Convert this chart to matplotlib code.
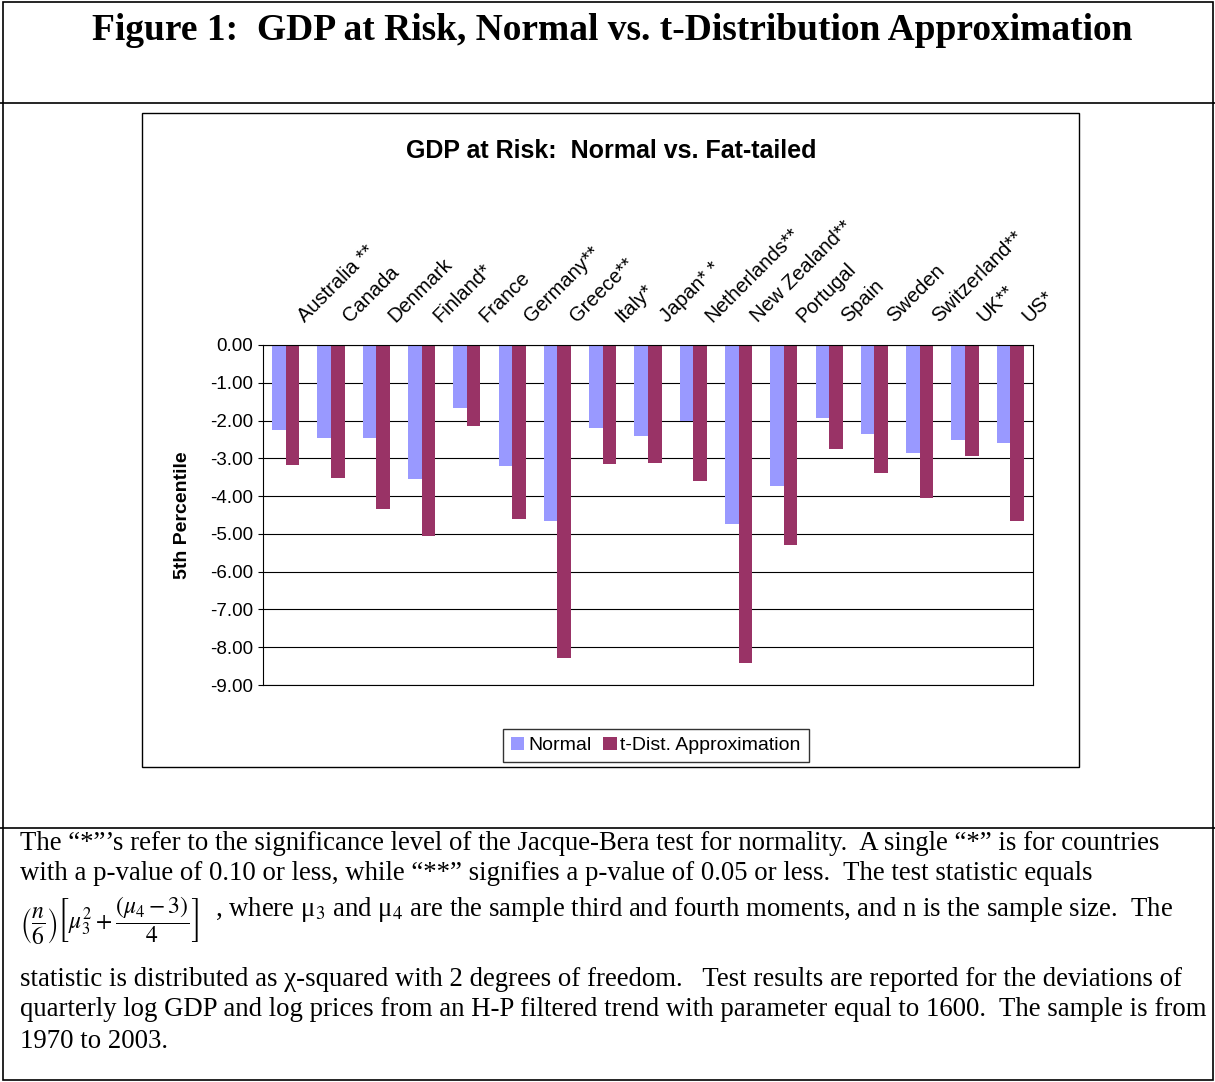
import matplotlib
matplotlib.use('Agg')
import matplotlib.pyplot as plt
import matplotlib.transforms as mtransforms
import numpy as np
from matplotlib.patches import Rectangle

countries = ['Australia **', 'Canada', 'Denmark', 'Finland*', 'France', 'Germany**', 'Greece**',
             'Italy*', 'Japan* *', 'Netherlands**', 'New Zealand**', 'Portugal', 'Spain',
             'Sweden', 'Switzerland**', 'UK**', 'US*']
normal = [-2.25, -2.46, -2.46, -3.54, -1.67, -3.20, -4.66, -2.20, -2.41, -2.01,
          -4.74, -3.73, -1.93, -2.35, -2.86, -2.51, -2.60]
t_dist = [-3.17, -3.51, -4.34, -5.05, -2.14, -4.60, -8.28, -3.15, -3.12, -3.60,
          -8.41, -5.29, -2.75, -3.39, -4.05, -2.94, -4.65]
yticks = np.arange(0, -9.5, -1)

W, H = 1215, 1082
fig = plt.figure(figsize=(W / 100, H / 100), dpi=100)
plt.rcParams['mathtext.fontset'] = 'stix'
serif = 'Liberation Serif'
sans = 'Liberation Sans'

def fx(x): return x / W
def fy(y): return 1 - y / H

# document frame
for y in [103, 828]:
    fig.add_artist(plt.Line2D([0, 1], [fy(y), fy(y)], color='black', lw=1.2))
fig.add_artist(Rectangle((fx(3), fy(1080)), fx(1210), fy(2) - fy(1080), fill=False, lw=1.2, color='black'))
fig.add_artist(Rectangle((fx(142), fy(767)), fx(937), fy(113) - fy(767), fill=False, lw=1, color='black'))

fig.text(fx(612), fy(31), 'Figure 1:  GDP at Risk, Normal vs. t-Distribution Approximation',
         ha='center', va='center', fontsize=27, fontweight='bold', family=serif)
fig.text(fx(611), fy(151), 'GDP at Risk:  Normal vs. Fat-tailed', ha='center', va='center',
         family=sans, fontsize=18, fontweight='bold')

ax = fig.add_axes([fx(263), fy(685), fx(1033 - 263), fy(345) - fy(685)])
x = np.arange(len(countries))
w = 0.3
ax.bar(x - w / 2, normal, w, color='#9999ff', label='Normal')
ax.bar(x + w / 2, t_dist, w, color='#993366', label='t-Dist. Approximation')
ax.set_xlim(-0.5, len(countries) - 0.5)
ax.set_ylim(-9, 0)
ax.set_yticks(yticks)
ax.set_yticklabels([f'{v:.2f}' for v in yticks], family=sans, fontsize=13.5)
ax.yaxis.grid(True, color='black', lw=0.8)
ax.set_axisbelow(True)
ax.xaxis.tick_top()
ax.set_xticks(x)
ax.set_xticklabels(countries, rotation=45, ha='left', va='bottom', rotation_mode='anchor',
                   family=sans, fontsize=14.5)
ax.tick_params(axis='x', length=4, direction='in', pad=14)
shift = mtransforms.ScaledTranslation(0.22, 0, fig.dpi_scale_trans)
for lab in ax.get_xticklabels():
    lab.set_transform(lab.get_transform() + shift)
ax.set_ylabel('5th Percentile', family=sans, fontsize=14, fontweight='bold', labelpad=14)
leg = ax.legend(loc='upper center', bbox_to_anchor=(0.51, -0.1), ncol=2, frameon=True, fancybox=False,
                edgecolor='black', prop={'family': sans, 'size': 14}, handlelength=0.7,
                handletextpad=0.2, columnspacing=0.6, borderpad=0.4)

cap = dict(family=serif, fontsize=19.3, ha='left', va='center')
fig.text(fx(20), fy(843), 'The \u201c*\u201d\u2019s refer to the significance level of the Jacque-Bera test for normality.  A single \u201c*\u201d is for countries', **cap)
fig.text(fx(20), fy(874), 'with a p-value of 0.10 or less, while \u201c**\u201d signifies a p-value of 0.05 or less.  The test statistic equals', **cap)
fig.text(fx(20), fy(921), r'$\left(\dfrac{n}{6}\right)\left[\mu_3^2+\dfrac{(\mu_4-3)}{4}\right]$', family=serif, fontsize=17, ha='left', va='center')
fig.text(fx(215), fy(909), ', where \u03bc$_3$ and \u03bc$_4$ are the sample third and fourth moments, and n is the sample size.  The', **cap)
fig.text(fx(20), fy(979), 'statistic is distributed as \u03c7-squared with 2 degrees of freedom.   Test results are reported for the deviations of', **cap)
fig.text(fx(20), fy(1010), 'quarterly log GDP and log prices from an H-P filtered trend with parameter equal to 1600.  The sample is from', **cap)
fig.text(fx(20), fy(1041), '1970 to 2003.', **cap)

fig.savefig('out.png', dpi=100)
